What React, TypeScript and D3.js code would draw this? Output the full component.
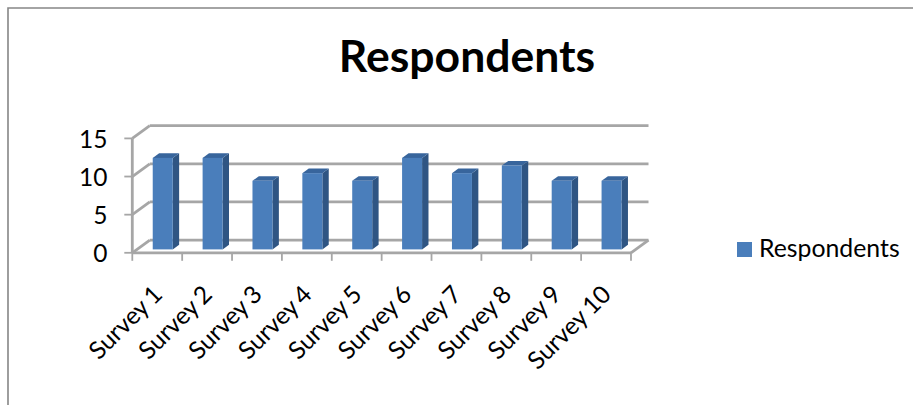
import React from "react";
import * as d3 from "d3";

const categories = ["Survey 1", "Survey 2", "Survey 3", "Survey 4", "Survey 5", "Survey 6", "Survey 7", "Survey 8", "Survey 9", "Survey 10"];
const respondents = [12, 12, 9, 10, 9, 12, 10, 11, 9, 9];
const yTicks = [0, 5, 10, 15];
const seriesName = "Respondents";
const chartTitle = "Respondents";

const FONT = "Lato, 'Open Sans', sans-serif";
const GRID = "#a6a6a6";
const FRONT = "#4a7ebb";
const SIDE = "#2f5583";
const TOP = "#38659c";

// Oblique projection offsets of the 3D box
const wallDx = 17.5;
const wallDy = -12.7;
const barDx = 6.4;
const barDy = -4.6;

export default function App() {
  const x = d3.scaleBand<string>().domain(categories).range([132.3, 631]);
  const y = d3.scaleLinear().domain([0, 15]).range([252.8, 138.4]);
  const barWidth = 20;
  const barBase = 249.4;
  const unit = y(0) - y(1);

  return (
    <svg width={913} height={405} style={{ position: "absolute", left: 0, top: 0, background: "#fff" }}>
      <path d="M8 405V8H913" fill="none" stroke="#868686" strokeWidth={1.6} />
      <text x={467} y={72} textAnchor="middle" fontFamily={FONT} fontWeight={700} fontSize={44.5} fill="#000">{chartTitle}</text>

      {/* back wall gridlines and the left wall diagonals */}
      {yTicks.map((t) => (
        <g key={t} stroke={GRID} strokeWidth={2.8} fill="none">
          <line x1={x.range()[0]} y1={y(t)} x2={x.range()[0] + wallDx} y2={y(t) + wallDy} />
          <line x1={x.range()[0] + wallDx} y1={y(t) + wallDy} x2={x.range()[1] + wallDx} y2={y(t) + wallDy} />
          <line x1={x.range()[0] - 8} y1={y(t)} x2={x.range()[0]} y2={y(t)} strokeWidth={1.8} />
        </g>
      ))}
      {/* floor edge and left axis */}
      <g stroke={GRID} fill="none">
        <line x1={x.range()[0]} y1={y(0)} x2={x.range()[1]} y2={y(0)} strokeWidth={2.8} />
        <line x1={x.range()[1]} y1={y(0)} x2={x.range()[1] + wallDx} y2={y(0) + wallDy} strokeWidth={2.8} />
        <line x1={x.range()[0]} y1={y(15)} x2={x.range()[0]} y2={y(0)} strokeWidth={2.8} />
        {categories.map((c) => (
          <line key={c} x1={x(c)!} y1={y(0)} x2={x(c)!} y2={y(0) + 8} strokeWidth={1.8} />
        ))}
        <line x1={x.range()[1]} y1={y(0)} x2={x.range()[1]} y2={y(0) + 8} strokeWidth={1.8} />
      </g>

      {yTicks.map((t) => (
        <text key={t} x={107.5} y={y(t) + 9.3} textAnchor="end" fontFamily={FONT} fontSize={24.5} fill="#000">{t}</text>
      ))}

      {/* bars: side face, top face, front face */}
      {categories.map((c, i) => {
        const left = x(c)! + x.bandwidth() / 2 - barWidth / 2 + 5.5;
        const right = left + barWidth;
        const top = barBase - respondents[i] * unit;
        return (
          <g key={c}>
            <path d={`M${right} ${barBase}L${right + barDx} ${barBase + barDy}L${right + barDx} ${top + barDy}L${right} ${top}Z`} fill={SIDE} />
            <path d={`M${left} ${top}L${left + barDx} ${top + barDy}L${right + barDx} ${top + barDy}L${right} ${top}Z`} fill={TOP} />
            <rect x={left} y={top} width={barWidth} height={barBase - top} fill={FRONT} />
          </g>
        );
      })}

      {categories.map((c) => {
        const cx = x(c)! + x.bandwidth() / 2 + 6.5;
        return (
          <text key={c} transform={`translate(${cx},296) rotate(-45)`} textAnchor="end" fontFamily={FONT} fontSize={24.5} wordSpacing={-1.5} fill="#000">{c}</text>
        );
      })}

      <rect x={737} y={242} width={15} height={15} fill={FRONT} />
      <text x={759} y={257} fontFamily={FONT} fontSize={24.8} fill="#000">{seriesName}</text>
    </svg>
  );
}
